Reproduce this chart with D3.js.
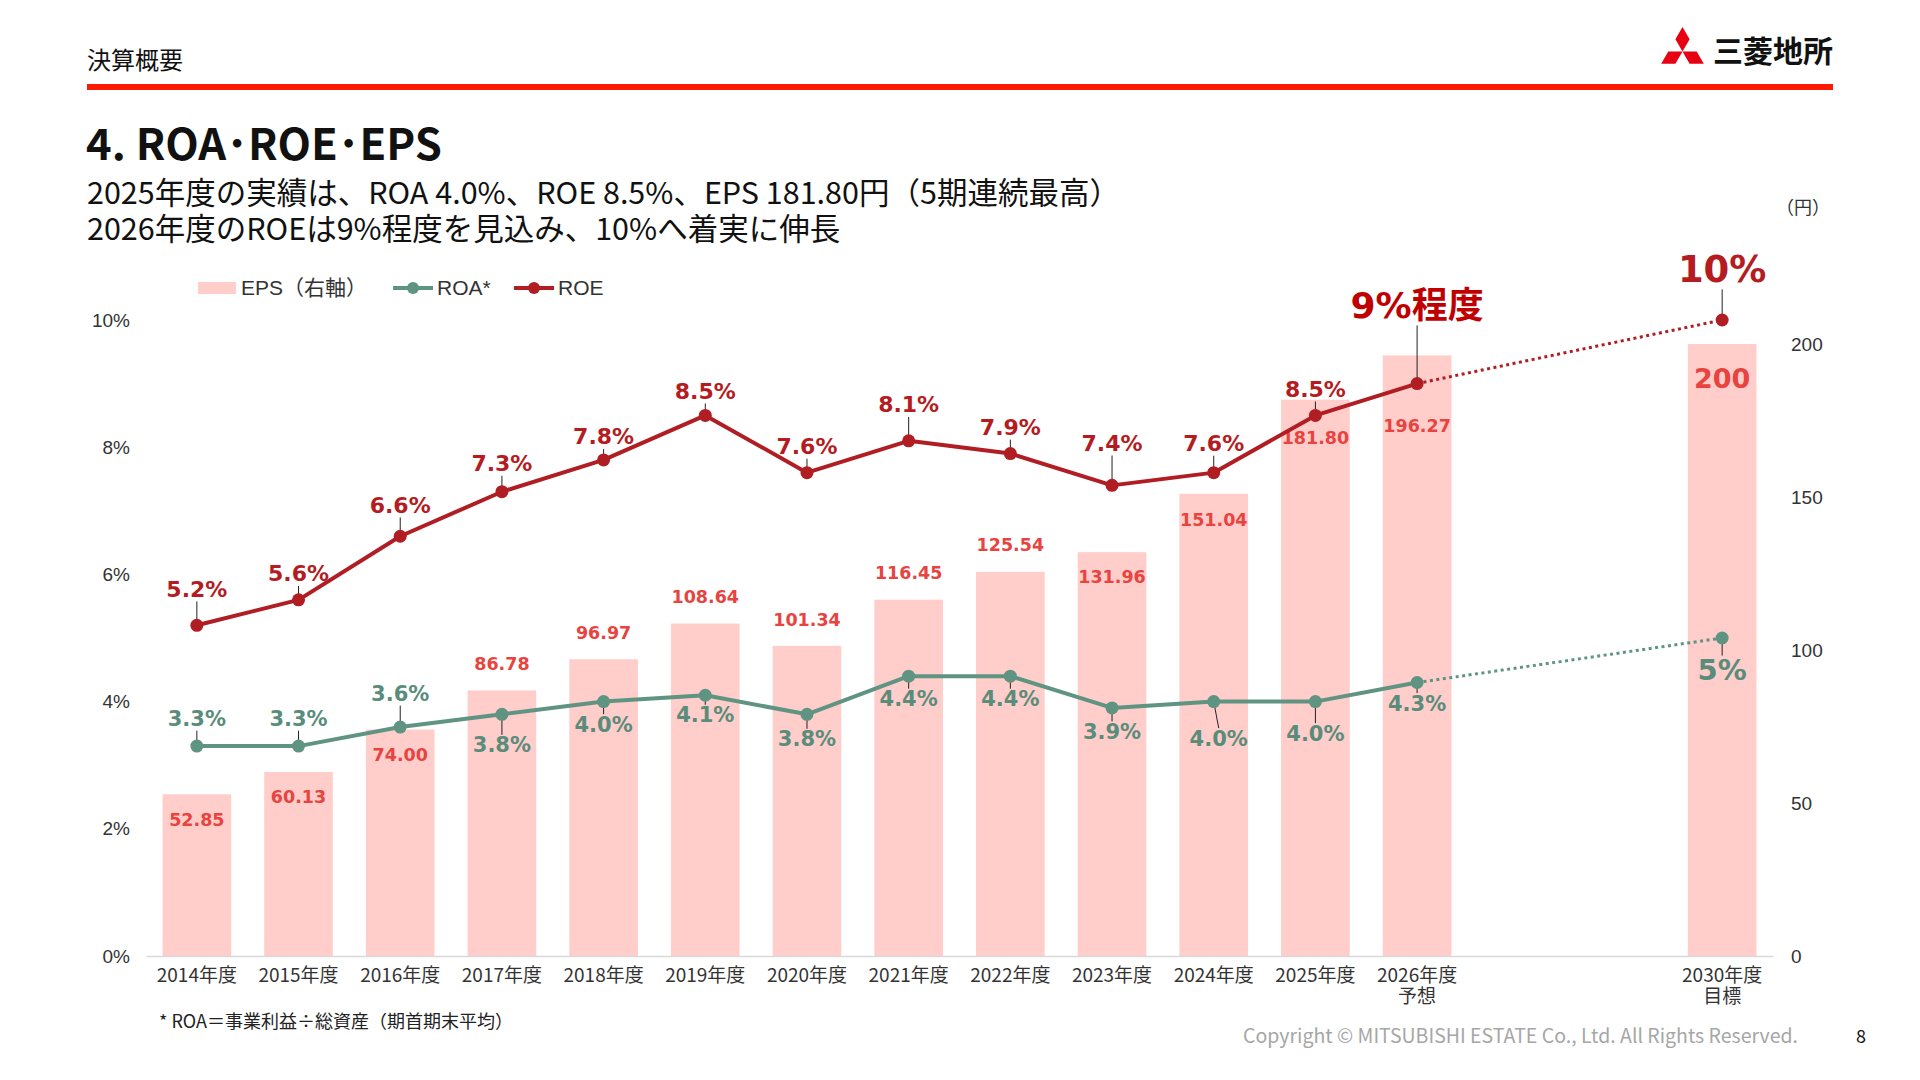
<!DOCTYPE html>
<html>
<head>
<meta charset="utf-8">
<script src="https://cdn.jsdelivr.net/npm/d3@7"></script>
<style>
  body { margin: 0; background: #fff; }
  svg { display: block; }
</style>
</head>
<body>
<div id="chart"></div>
<script>
// Category slots (two empty slots between 2026 and 2030).
var years = ["2014年度", "2015年度", "2016年度", "2017年度", "2018年度", "2019年度", "2020年度",
  "2021年度", "2022年度", "2023年度", "2024年度", "2025年度", "2026年度", "", "", "2030年度"];
var yearNotes = ["", "", "", "", "", "", "", "", "", "", "", "", "予想", "", "", "目標"];

// EPS (yen, right axis)
var eps = [52.85, 60.13, 74.00, 86.78, 96.97, 108.64, 101.34, 116.45, 125.54, 131.96, 151.04, 181.80, 196.27, null, null, 200];
var epsText = ["52.85", "60.13", "74.00", "86.78", "96.97", "108.64", "101.34", "116.45", "125.54", "131.96", "151.04", "181.80", "196.27", "", "", "200"];

// ROA / ROE (%, left axis)
var roa = [3.3, 3.3, 3.6, 3.8, 4.0, 4.1, 3.8, 4.4, 4.4, 3.9, 4.0, 4.0, 4.3, null, null, 5];
var roaText = ["3.3%", "3.3%", "3.6%", "3.8%", "4.0%", "4.1%", "3.8%", "4.4%", "4.4%", "3.9%", "4.0%", "4.0%", "4.3%", "", "", "5%"];
var roe = [5.2, 5.6, 6.6, 7.3, 7.8, 8.5, 7.6, 8.1, 7.9, 7.4, 7.6, 8.5, 9, null, null, 10];
var roeText = ["5.2%", "5.6%", "6.6%", "7.3%", "7.8%", "8.5%", "7.6%", "8.1%", "7.9%", "7.4%", "7.6%", "8.5%", "9%程度", "", "", "10%"];

var leftTicks = [0, 2, 4, 6, 8, 10];
var rightTicks = [0, 50, 100, 150, 200];

// Label placement (pixel offsets of label centre from its mark)
var epsDy = [26, 25, 25, -26, -26, -27, -26, -27, -27, 25, 26, 38, 71, 0, 0, 34];
var roaDy = [-27, -27, -33, 31, 23, 20, 25, 23, 23, 24, 37, 32, 21, 0, 0, 32];
var roaDx = [0, 0, 0, 0, 0, 0, 0, 0, 0, 0, 5, 0, 0, 0, 0, 0];
var roeDy = [-36, -26, -31, -28, -23, -24, -26, -36, -26, -42, -29, -26, -78, 0, 0, -51];

var W = 1920, H = 1080;
var C = {
  bar: "#ffcdca", roe: "#b01e24", roa: "#5f9482",
  epsLbl: "#e8433f", roeLbl: "#b41c22", roaLbl: "#5a8c7b", red: "#fe1a00"
};
var numFont = "'DejaVu Sans', 'Noto Sans CJK JP', sans-serif";
var jpFont = "'Noto Sans CJK JP', sans-serif";
var axFont = "'Liberation Sans', Arial, 'Noto Sans CJK JP', sans-serif";

var svg = d3.select("#chart").append("svg")
  .attr("width", W).attr("height", H);

// ---------- header ----------
svg.append("text").attr("x", 87).attr("y", 69)
  .attr("font-family", jpFont).attr("font-size", 24).attr("fill", "#111")
  .text("決算概要");
svg.append("rect").attr("x", 87).attr("y", 84).attr("width", 1746).attr("height", 6)
  .attr("fill", C.red);

// logo: three diamonds
var s = 14.2, L = s * Math.sqrt(3);
var logo = svg.append("g").attr("transform", "translate(1682.5,51.5)");
[-90, 30, 150].forEach(function(a) {
  logo.append("path")
    .attr("d", "M0,0 L" + (L / 2) + "," + (-s / 2) + " L" + L + ",0 L" + (L / 2) + "," + (s / 2) + "Z")
    .attr("transform", "rotate(" + a + ")")
    .attr("fill", "#e60012");
});
svg.append("text").attr("x", 1713).attr("y", 62)
  .attr("font-family", jpFont).attr("font-weight", 700).attr("font-size", 30)
  .attr("fill", "#111").text("三菱地所");

// title + lead
svg.append("text").attr("x", 86).attr("y", 160)
  .attr("font-family", jpFont).attr("font-weight", 700).attr("font-size", 43.5)
  .attr("fill", "#111").text("4. ROA･ROE･EPS");
var lead = svg.append("text").attr("font-family", jpFont).attr("font-size", 30.5).attr("fill", "#111");
lead.append("tspan").attr("x", 87).attr("y", 204)
  .text("2025年度の実績は、ROA 4.0%、ROE 8.5%、EPS 181.80円（5期連続最高）");
lead.append("tspan").attr("x", 87).attr("y", 240)
  .text("2026年度のROEは9%程度を見込み、10%へ着実に伸長");

// ---------- scales ----------
var x = d3.scaleBand().domain(d3.range(years.length)).range([146, 1773])
  .paddingInner(0.325).paddingOuter(0.1625);
var cx = function(i) { return x(i) + x.bandwidth() / 2; };
var yL = d3.scaleLinear().domain([0, 10]).range([956, 320]);
var yR = d3.scaleLinear().domain([0, 200]).range([956, 344]);

// ---------- axes ----------
var gl = svg.append("g").attr("transform", "translate(147,0)")
  .call(d3.axisLeft(yL).tickValues(leftTicks).tickSize(0).tickPadding(17)
    .tickFormat(function(d) { return d + "%"; }));
gl.select(".domain").remove();
gl.selectAll("text").attr("font-family", axFont).attr("font-size", 19).attr("fill", "#333");

var gr = svg.append("g").attr("transform", "translate(1773,0)")
  .call(d3.axisRight(yR).tickValues(rightTicks).tickSize(0).tickPadding(18));
gr.select(".domain").remove();
gr.selectAll("text").attr("font-family", axFont).attr("font-size", 19).attr("fill", "#333");
svg.append("text").attr("x", 1776).attr("y", 214)
  .attr("font-family", jpFont).attr("font-size", 18).attr("fill", "#333").text("（円）");

// ---------- bars ----------
var barIdx = d3.range(eps.length).filter(function(i) { return eps[i] != null; });
svg.append("g").selectAll("rect").data(barIdx).join("rect")
  .attr("x", function(i) { return x(i); })
  .attr("width", x.bandwidth())
  .attr("y", function(i) { return yR(eps[i]); })
  .attr("height", function(i) { return yR(0) - yR(eps[i]); })
  .attr("fill", C.bar);

var gx = svg.append("g").attr("transform", "translate(0,956)")
  .call(d3.axisBottom(x).tickSize(0).tickSizeOuter(0).tickPadding(13)
    .tickFormat(function(i) { return years[i]; }));
gx.select(".domain").attr("stroke", "#d9d9d9").attr("stroke-width", 1.5);
gx.selectAll("text").attr("font-family", jpFont).attr("font-size", 19).attr("fill", "#333");
// second line under forecast / target years
svg.append("g").selectAll("text").data(d3.range(yearNotes.length).filter(function(i) { return yearNotes[i]; }))
  .join("text")
  .attr("x", cx).attr("y", 1003)
  .attr("text-anchor", "middle")
  .attr("font-family", jpFont).attr("font-size", 19).attr("fill", "#333")
  .text(function(i) { return yearNotes[i]; });

// EPS labels
svg.append("g").selectAll("text").data(barIdx).join("text")
  .attr("x", cx)
  .attr("y", function(i) { return yR(eps[i]) + epsDy[i]; })
  .attr("text-anchor", "middle").attr("dominant-baseline", "central")
  .attr("font-family", numFont).attr("font-weight", 700)
  .attr("font-size", function(i) { return i === 15 ? 27 : 17.5; })
  .attr("fill", C.epsLbl)
  .text(function(i) { return epsText[i]; });

// ---------- lines ----------
function drawSeries(vals, color) {
  var idx = d3.range(vals.length).filter(function(i) { return vals[i] != null; });
  var line = d3.line().x(cx).y(function(i) { return yL(vals[i]); });
  var solid = idx.filter(function(i) { return i <= 12; });
  var proj = idx.filter(function(i) { return i >= 12; });
  svg.append("path").attr("d", line(proj)).attr("fill", "none")
    .attr("stroke", color).attr("stroke-width", 3).attr("stroke-dasharray", "3 3.5");
  svg.append("path").attr("d", line(solid)).attr("fill", "none")
    .attr("stroke", color).attr("stroke-width", 4).attr("stroke-linejoin", "round");
  return idx;
}
var roaIdx = drawSeries(roa, C.roa);
var roeIdx = drawSeries(roe, C.roe);

// leader ticks
function leaders(vals, idx, dy, dx, fs) {
  svg.append("g").selectAll("line").data(idx).join("line")
    .attr("x1", cx)
    .attr("y1", function(i) { return yL(vals[i]); })
    .attr("x2", function(i) { return cx(i) + (dx ? dx[i] : 0); })
    .attr("y2", function(i) {
      var f = fs(i), ly = yL(vals[i]) + dy[i];
      return dy[i] < 0 ? ly + f * 0.55 : ly - f * 0.5;
    })
    .attr("stroke", "#222").attr("stroke-width", 1);
}
function roeSize(i) { return i === 12 ? 36 : i === 15 ? 37 : 22; }
function roaSize(i) { return i === 15 ? 29 : 21; }
leaders(roe, roeIdx, roeDy, null, roeSize);
leaders(roa, roaIdx, roaDy, roaDx, roaSize);

// dots
[[roa, roaIdx, C.roa], [roe, roeIdx, C.roe]].forEach(function(sr) {
  svg.append("g").selectAll("circle").data(sr[1]).join("circle")
    .attr("cx", cx).attr("cy", function(i) { return yL(sr[0][i]); })
    .attr("r", 6.5).attr("fill", sr[2]);
});

// ROE / ROA labels
svg.append("g").selectAll("text").data(roeIdx).join("text")
  .attr("x", cx)
  .attr("y", function(i) { return yL(roe[i]) + roeDy[i]; })
  .attr("text-anchor", "middle").attr("dominant-baseline", "central")
  .attr("font-family", numFont).attr("font-weight", 700)
  .attr("font-size", roeSize)
  .attr("fill", function(i) { return i === 12 ? "#c00000" : C.roeLbl; })
  .text(function(i) { return roeText[i]; });

svg.append("g").selectAll("text").data(roaIdx).join("text")
  .attr("x", function(i) { return cx(i) + roaDx[i]; })
  .attr("y", function(i) { return yL(roa[i]) + roaDy[i]; })
  .attr("text-anchor", "middle").attr("dominant-baseline", "central")
  .attr("font-family", numFont).attr("font-weight", 700)
  .attr("font-size", roaSize)
  .attr("fill", C.roaLbl)
  .text(function(i) { return roaText[i]; });

// ---------- legend ----------
var lg = svg.append("g").attr("font-family", axFont).attr("font-size", 21).attr("fill", "#333");
lg.append("rect").attr("x", 198).attr("y", 282).attr("width", 38).attr("height", 12).attr("fill", C.bar);
lg.append("text").attr("x", 241).attr("y", 295).text("EPS（右軸）");
[[393, C.roa, "ROA*"], [514, C.roe, "ROE"]].forEach(function(d) {
  lg.append("line").attr("x1", d[0]).attr("x2", d[0] + 40).attr("y1", 288).attr("y2", 288)
    .attr("stroke", d[1]).attr("stroke-width", 4);
  lg.append("circle").attr("cx", d[0] + 20).attr("cy", 288).attr("r", 6).attr("fill", d[1]);
  lg.append("text").attr("x", d[0] + 44).attr("y", 295).text(d[2]);
});

// ---------- footer ----------
svg.append("text").attr("x", 159).attr("y", 1028)
  .attr("font-family", jpFont).attr("font-size", 18).attr("fill", "#222")
  .text("* ROA＝事業利益÷総資産（期首期末平均）");
svg.append("text").attr("x", 1798).attr("y", 1043).attr("text-anchor", "end")
  .attr("font-family", jpFont).attr("font-size", 19.5).attr("fill", "#a6a6a6")
  .text("Copyright © MITSUBISHI ESTATE Co., Ltd. All Rights Reserved.");
svg.append("text").attr("x", 1861).attr("y", 1043).attr("text-anchor", "middle")
  .attr("font-family", jpFont).attr("font-size", 18).attr("fill", "#111").text("8");
</script>
</body>
</html>
